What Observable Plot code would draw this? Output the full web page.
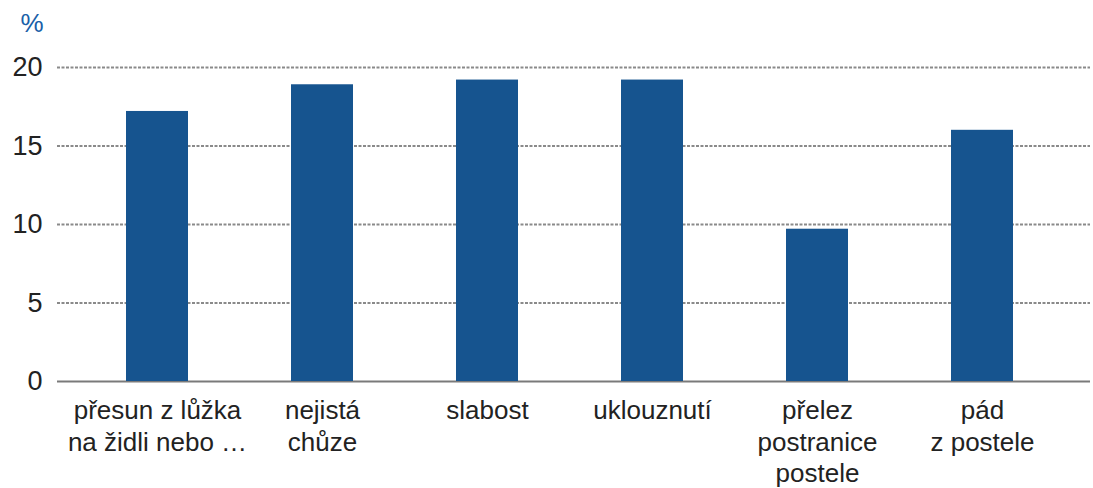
<!DOCTYPE html>
<html>
<head>
<meta charset="utf-8">
<script src="https://cdn.jsdelivr.net/npm/d3@7"></script>
<script src="https://cdn.jsdelivr.net/npm/@observablehq/plot@0.6"></script>
<style>
  html, body { margin: 0; padding: 0; background: #fff; }
</style>
</head>
<body>
<div id="chart"></div>
<script>
const categories = [
  "přesun z lůžka\nna židli nebo …",
  "nejistá\nchůze",
  "slabost",
  "uklouznutí",
  "přelez\npostranice\npostele",
  "pád\nz postele"
];
const values = [17.2, 18.9, 19.2, 19.2, 9.7, 16.0];
const yTicks = [0, 5, 10, 15, 20];
const unitLabel = "%";

const data = categories.map((c, i) => ({category: c, value: values[i]}));

const chart = Plot.plot({
  width: 1093,
  height: 488,
  marginLeft: 57,
  marginRight: 3,
  marginTop: 67,
  marginBottom: 107,
  style: {fontFamily: "Liberation Sans, Arial, sans-serif", color: "#222", background: "#fff"},
  x: {domain: categories, paddingInner: 0.625, paddingOuter: 0.3125, insetLeft: 16, insetRight: 24, label: null},
  y: {domain: [0, 20], label: null},
  marks: [
    Plot.gridY(yTicks.filter(d => d > 0), {stroke: "#8a8a8a", strokeOpacity: 1, strokeWidth: 1.8, strokeDasharray: "3,1.5"}),
    Plot.ruleY([0], {stroke: "#7a7a7a", strokeWidth: 2}),
    Plot.barY(data, {x: "category", y: "value", fill: "#16548f"}),
    Plot.axisY({ticks: yTicks, tickSize: 0, tickPadding: 15, fontSize: 27, fill: "#222"}),
    Plot.axisX({tickSize: 0, tickPadding: 15, fontSize: 26, lineHeight: 1.22, fill: "#222"}),
    Plot.text([unitLabel], {frameAnchor: "top-left", textAnchor: "start", dx: -37, dy: -54, fontSize: 26, fill: "#1a5fa8", text: d => d})
  ]
});
document.getElementById("chart").appendChild(chart);
</script>
</body>
</html>
